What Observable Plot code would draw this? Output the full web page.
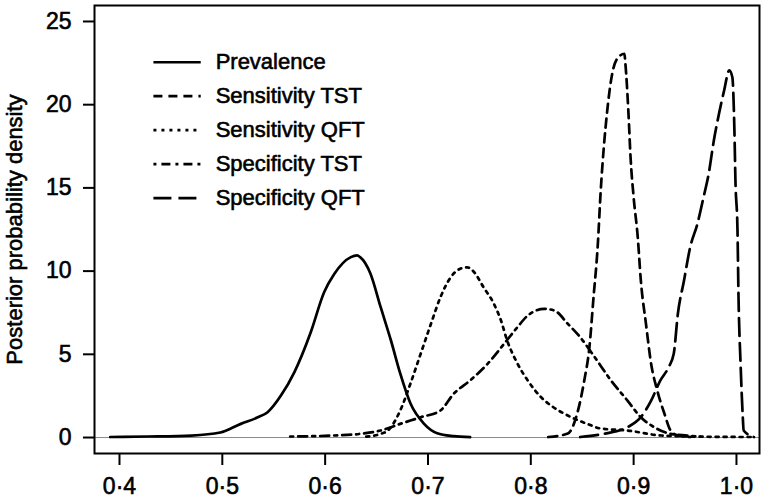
<!DOCTYPE html>
<html>
<head>
<meta charset="utf-8">
<script src="https://cdn.jsdelivr.net/npm/d3@7"></script>
<script src="https://cdn.jsdelivr.net/npm/@observablehq/plot@0.6"></script>
<style>
  html, body { margin: 0; padding: 0; background: #fff; }
  #chart svg { display: block; }
</style>
</head>
<body>
<div id="chart"></div>
<script>
// ---- data ----
const seriesNames = ["Prevalence", "Sensitivity TST", "Sensitivity QFT", "Specificity TST", "Specificity QFT"];

const prevalenceX = [0.391, 0.427, 0.47, 0.498, 0.518, 0.534, 0.544, 0.557, 0.570, 0.586, 0.599, 0.609, 0.625, 0.631, 0.634, 0.644, 0.654, 0.664, 0.673, 0.683, 0.696, 0.709, 0.725, 0.741];
const prevalenceY = [0.03, 0.06, 0.12, 0.30, 0.82, 1.2, 1.52, 2.52, 3.92, 6.33, 8.73, 9.84, 10.84, 10.94, 10.84, 9.86, 7.83, 5.83, 3.85, 2.04, 0.84, 0.26, 0.08, 0.02];

const sensTstX = [0.817, 0.836, 0.845, 0.852, 0.857, 0.861, 0.865, 0.868, 0.871, 0.874, 0.878, 0.883, 0.891, 0.892, 0.895, 0.897, 0.900, 0.904, 0.907, 0.912, 0.917, 0.923, 0.930, 0.936, 0.943, 0.955];
const sensTstY = [0.03, 0.24, 1.42, 3.43, 5.43, 8.43, 11.44, 14.84, 17.45, 19.45, 21.45, 22.66, 23.06, 22.46, 19.45, 16.84, 14.44, 12.04, 9.44, 6.83, 4.43, 2.82, 1.42, 0.42, 0.12, 0.03];

const sensQftX = [0.640, 0.654, 0.661, 0.673, 0.683, 0.693, 0.703, 0.712, 0.722, 0.732, 0.738, 0.745, 0.754, 0.764, 0.771, 0.777, 0.787, 0.797, 0.810, 0.822, 0.836, 0.855, 0.868, 0.894, 0.927, 0.966, 1.014];
const sensQftY = [0.05, 0.22, 0.42, 1.62, 3.25, 5.05, 6.85, 8.41, 9.62, 10.16, 10.23, 9.93, 9.03, 8.05, 7.03, 5.83, 4.45, 3.43, 2.42, 1.82, 1.32, 0.82, 0.54, 0.42, 0.12, 0.05, 0.03];

const specTstX = [0.566, 0.608, 0.634, 0.654, 0.673, 0.693, 0.712, 0.725, 0.741, 0.758, 0.774, 0.787, 0.797, 0.813, 0.823, 0.836, 0.848, 0.861, 0.878, 0.894, 0.907, 0.920, 0.936, 0.952, 0.965];
const specTstY = [0.06, 0.12, 0.22, 0.42, 0.82, 1.22, 1.62, 2.63, 3.43, 4.43, 5.63, 6.63, 7.33, 7.73, 7.63, 6.83, 6.03, 4.93, 3.43, 2.22, 1.22, 0.62, 0.22, 0.12, 0.05];

const specQftX = [0.848, 0.871, 0.894, 0.907, 0.917, 0.926, 0.934, 0.939, 0.943, 0.949, 0.955, 0.962, 0.968, 0.973, 0.978, 0.983, 0.988, 0.993, 0.996, 0.998, 0.999, 1.001, 1.002, 1.004, 1.006, 1.007, 1.017];
const specQftY = [0.03, 0.22, 0.62, 1.22, 2.22, 3.43, 4.22, 5.03, 7.43, 9.44, 11.44, 12.84, 14.44, 15.85, 17.85, 19.45, 20.85, 22.06, 21.65, 18.45, 15.44, 12.44, 8.43, 4.43, 1.42, 0.42, 0.03];

const xTicks = [0.4, 0.5, 0.6, 0.7, 0.8, 0.9, 1.0];
const yTicks = [0, 5, 10, 15, 20, 25];
const yTitle = "Posterior probability density";

// ---- build table ----
const xs = [prevalenceX, sensTstX, sensQftX, specTstX, specQftX];
const ys = [prevalenceY, sensTstY, sensQftY, specTstY, specQftY];
const dashes = [null, "9,6", "3,5", "3,5,9,5", "18,7"];
const series = seriesNames.map((name, i) => ({
  name,
  dash: dashes[i],
  points: xs[i].map((x, j) => ({x, y: ys[i][j]}))
}));

// legend layout (data-space placement inside the frame)
const legendX1 = 0.433, legendX2 = 0.479, legendTextX = 0.4935;
const legendTop = 22.55, legendStep = 2.04;
const legend = series.map((s, i) => ({...s, ly: legendTop - i * legendStep}));

const font = "'Liberation Sans', Arial, Helvetica, sans-serif";

const marks = [
  Plot.ruleY([0], {stroke: "#8c8c8c", strokeWidth: 1}),
  ...series.map(s => Plot.line(s.points, {
    x: "x", y: "y", stroke: "#000", strokeWidth: 2.7,
    strokeDasharray: s.dash || undefined, curve: "monotone-x"
  })),
  ...legend.map(s => Plot.link([s], {
    x1: () => legendX1, x2: () => legendX2, y1: "ly", y2: "ly",
    stroke: "#000", strokeWidth: 2.7, strokeDasharray: s.dash || undefined
  })),
  Plot.text(legend, {
    x: () => legendTextX, y: "ly", text: "name", textAnchor: "start",
    fontSize: 22, fill: "#000", lineAnchor: "middle"
  }),
  Plot.axisX(xTicks, {
    tickSize: 12, tickPadding: 12, strokeWidth: 2, fontSize: 23,
    tickFormat: d => d.toFixed(1).replace(".", "\u00B7"), label: null
  }),
  Plot.axisY(yTicks, {
    tickSize: 11, tickPadding: 12, strokeWidth: 2, fontSize: 23, label: null
  }),
  Plot.text([yTitle], {
    frameAnchor: "left", rotate: -90, dx: -80, textAnchor: "middle",
    fontSize: 22, fill: "#000", lineAnchor: "middle"
  }),
  Plot.frame({stroke: "#000", strokeWidth: 2})
];

const chart = Plot.plot({
  width: 766,
  height: 499,
  marginLeft: 94,
  marginRight: 7,
  marginTop: 5,
  marginBottom: 46,
  style: {fontFamily: font, background: "#fff", color: "#000"},
  x: {domain: [0.3757, 1.0224]},
  y: {domain: [-0.96, 25.96]},
  marks
});
// heavier text, like the reference's dark rendering
d3.select(chart).selectAll("text")
  .attr("stroke", "#000").attr("stroke-width", 0.6).attr("fill", "#000");
document.getElementById("chart").appendChild(chart);
</script>
</body>
</html>
